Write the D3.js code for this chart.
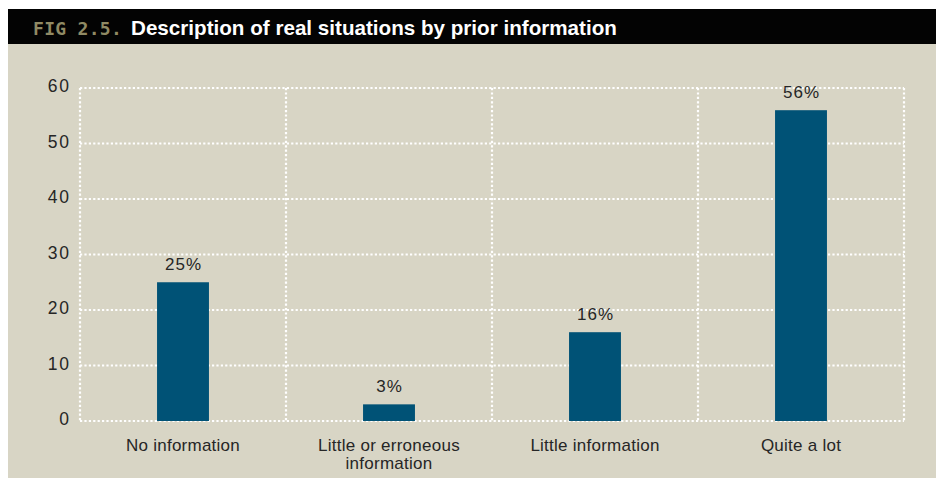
<!DOCTYPE html>
<html>
<head>
<meta charset="utf-8">
<script src="https://cdn.jsdelivr.net/npm/d3@7"></script>
<style>
  html, body { margin: 0; padding: 0; background: #ffffff; }
  svg { display: block; }
  text { font-family: "Liberation Sans", Arial, Helvetica, sans-serif; }
</style>
</head>
<body>
<svg id="chart" width="937" height="478"></svg>
<script>
// Share of real situations by how much prior information was available
const categories = [
  ["No information"],
  ["Little or erroneous", "information"],
  ["Little information"],
  ["Quite a lot"]
];
const values = [25, 3, 16, 56];
const yTicks = [0, 10, 20, 30, 40, 50, 60];
const figLabel = "FIG 2.5.";
const title = "Description of real situations by prior information";

const svg = d3.select("#chart");
const W = 937, H = 478;

// panel background and header bar
svg.append("rect").attr("x", 8).attr("y", 9).attr("width", W - 9).attr("height", H - 9)
  .attr("fill", "#d8d5c5");
svg.append("rect").attr("x", 8).attr("y", 9).attr("width", W - 9).attr("height", 35)
  .attr("fill", "#030303");

svg.append("text")
  .attr("x", 33).attr("y", 35)
  .attr("fill", "#908a64")
  .style("font-family", "'DejaVu Sans Mono', monospace")
  .style("font-weight", "bold")
  .style("font-size", "18px")
  .style("letter-spacing", "0.3px")
  .text(figLabel);

const titleText = svg.append("text")
  .attr("x", 131).attr("y", 35)
  .attr("fill", "#ffffff")
  .style("font-weight", "bold")
  .style("font-size", "18px")
  .text(title);
// fit the title to its span in the header
const tw = titleText.node().getComputedTextLength();
titleText.style("font-size", (18 * 486 / tw).toFixed(2) + "px");

// plot area
const m = { left: 80, right: 904, top: 88, bottom: 421 };

const x = d3.scaleBand()
  .domain(d3.range(categories.length))
  .range([m.left, m.right])
  .padding(0);

const y = d3.scaleLinear()
  .domain([0, 60])
  .range([m.bottom, m.top]);

const grid = svg.append("g");
const dot = { stroke: "#ffffff", width: 2.2, dash: "2.2,2.2" };

// horizontal gridlines
grid.selectAll("line.h").data(yTicks).join("line")
  .attr("class", "h")
  .attr("x1", m.left).attr("x2", m.right)
  .attr("y1", d => y(d)).attr("y2", d => y(d))
  .attr("stroke", dot.stroke).attr("stroke-width", dot.width)
  .attr("stroke-dasharray", dot.dash);

// vertical gridlines at the band edges
const edges = d3.range(categories.length + 1).map(i => m.left + i * x.step());
grid.selectAll("line.v").data(edges).join("line")
  .attr("class", "v")
  .attr("x1", d => d).attr("x2", d => d)
  .attr("y1", m.top).attr("y2", m.bottom)
  .attr("stroke", dot.stroke).attr("stroke-width", dot.width)
  .attr("stroke-dasharray", dot.dash);

// y axis labels
const yAxis = d3.axisLeft(y).tickValues(yTicks).tickSize(0).tickPadding(9.5);
const gy = svg.append("g").attr("transform", `translate(${m.left},0)`).call(yAxis);
gy.select(".domain").remove();
gy.selectAll("text")
  .attr("fill", "#262626")
  .attr("dy", "0.22em")
  .style("font-family", "'Liberation Sans', Arial, sans-serif")
  .style("font-size", "17.5px")
  .style("letter-spacing", "1.6px");

// bars
const barW = x.bandwidth() * 0.252;
svg.selectAll("rect.bar").data(values).join("rect")
  .attr("class", "bar")
  .attr("x", (d, i) => x(i) + x.bandwidth() / 2 - barW / 2)
  .attr("width", barW)
  .attr("y", d => y(d))
  .attr("height", d => y(0) - y(d))
  .attr("fill", "#005276");

// value labels
svg.selectAll("text.val").data(values).join("text")
  .attr("class", "val")
  .attr("x", (d, i) => x(i) + x.bandwidth() / 2 + 0.5)
  .attr("y", d => y(d) - 12)
  .attr("text-anchor", "middle")
  .attr("fill", "#262626")
  .style("font-size", "17px")
  .style("letter-spacing", "1px")
  .text(d => d + "%");

// category labels
const cat = svg.selectAll("text.cat").data(categories).join("text")
  .attr("class", "cat")
  .attr("text-anchor", "middle")
  .attr("fill", "#262626")
  .style("font-size", "17px")
  .style("letter-spacing", "0.25px");
cat.selectAll("tspan").data((d, i) => d.map(s => ({ s, i }))).join("tspan")
  .attr("x", d => x(d.i) + x.bandwidth() / 2)
  .attr("y", (d, j) => 451 + j * 17.6)
  .text(d => d.s);
</script>
</body>
</html>
